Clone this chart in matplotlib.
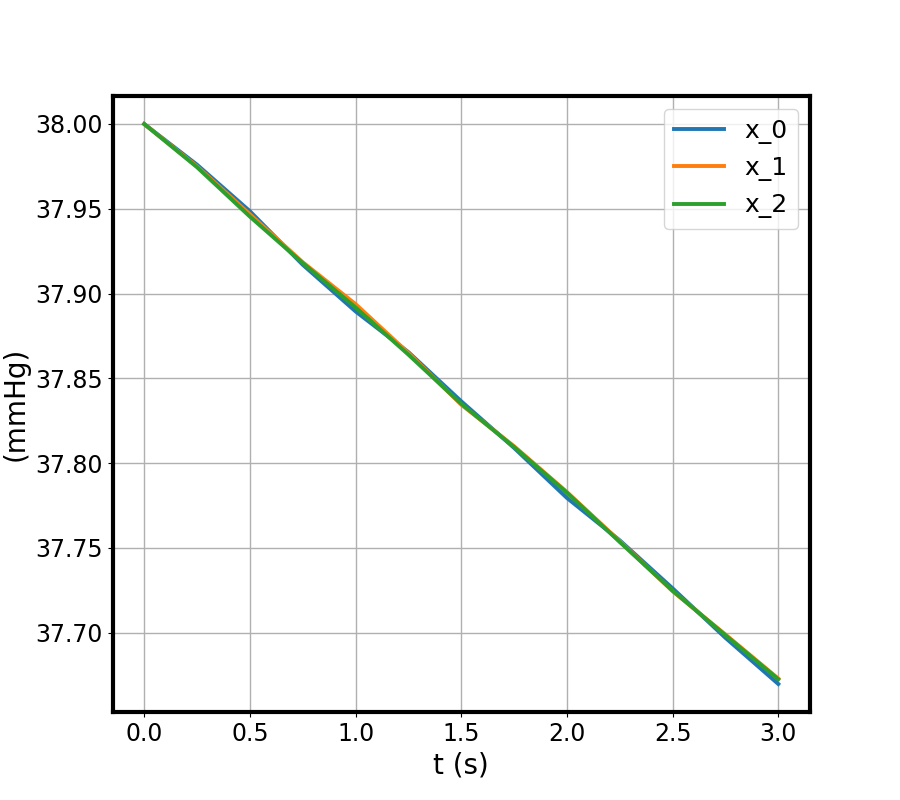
import numpy as np
import matplotlib
matplotlib.use("Agg")
from matplotlib import pyplot as plt

# time samples (s)
t = [0.0, 0.25, 0.5, 0.75, 1.0, 1.25, 1.5, 1.75, 2.0, 2.25, 2.5, 2.75, 3.0]

# pressure traces (mmHg)
x_0 = [38.0000, 37.9760, 37.9486, 37.9170, 37.8895, 37.8655, 37.8365,
       37.8090, 37.7795, 37.7545, 37.7262, 37.6970, 37.6698]
x_1 = [38.0000, 37.9750, 37.9468, 37.9185, 37.8938, 37.8650, 37.8345,
       37.8100, 37.7830, 37.7540, 37.7245, 37.6990, 37.6730]
x_2 = [38.0000, 37.9745, 37.9454, 37.9180, 37.8918, 37.8640, 37.8350,
       37.8095, 37.7826, 37.7535, 37.7248, 37.6985, 37.6726]

series = {'x_0': x_0, 'x_1': x_1, 'x_2': x_2}

fig, ax = plt.subplots(figsize=(9, 8), dpi=100)

for name, vals in series.items():
    ax.plot(t, vals, linewidth=2.8, label=name)

ax.grid(True, linewidth=1)
ax.set_xlabel('t (s)', fontsize=20)
ax.set_ylabel('(mmHg)', fontsize=20)
ax.tick_params(labelsize=17)
ax.yaxis.set_major_formatter(matplotlib.ticker.FormatStrFormatter('%.2f'))
for sp in ax.spines.values():
    sp.set_linewidth(3)
ax.legend(fontsize=18, loc='upper right')

fig.savefig('out.png', dpi=100)
